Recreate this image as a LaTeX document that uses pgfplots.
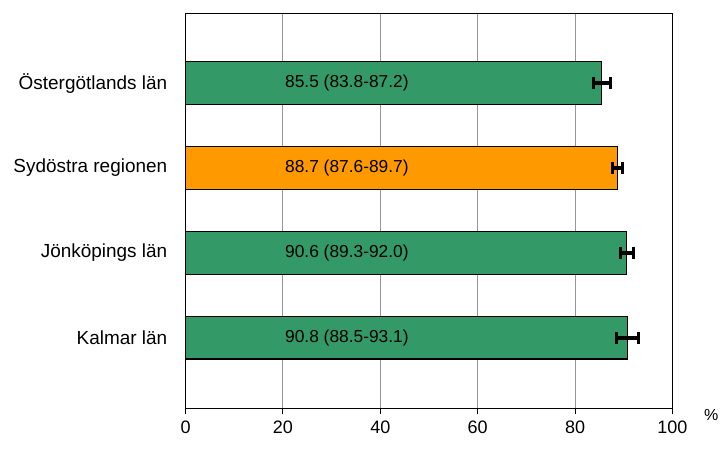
\documentclass[border=0pt]{standalone}
\usepackage{pgfplots}
\pgfplotsset{compat=1.18}
\usepackage{fontspec}
\setmainfont{Liberation Sans}
\definecolor{bargreen}{RGB}{51,153,102}
\definecolor{barorange}{RGB}{255,153,0}
\definecolor{gridgray}{RGB}{150,150,150}
\begin{document}
\begin{tikzpicture}
\begin{axis}[
  name=ax,
  scale only axis,
  width=364.9pt, height=296.1pt,
  xmin=0, xmax=100,
  ymin=-0.835, ymax=3.82,
  xbar, bar width=32pt, bar shift=0pt,
  xtick={0,20,40,60,80,100},
  ytick={0,1,2,3},
  yticklabels={Kalmar län, Jönköpings län, Sydöstra regionen, Östergötlands län},
  y tick style={draw=none},
  x tick style={black, line width=0.8pt},
  tick align=outside,
  major tick length=3.75pt,
  xtick pos=bottom,
  xmajorgrids,
  grid style={gridgray, line width=0.75pt},
  axis line style={black, line width=1pt},
  xticklabel style={font=\fontsize{13.5}{16}\selectfont, yshift=-2pt},
  yticklabel style={font=\fontsize{14.2}{17}\selectfont, xshift=-6.5pt},
  /pgf/number format/assume math mode=true,
  clip=false,
]
\addplot[draw=black, line width=0.9pt, fill=bargreen,
  error bars/.cd, x dir=both, x explicit,
  error bar style={line width=3.2pt, black},
  error mark options={rotate=90, mark size=4.5pt, line width=2.2pt, black}]
  coordinates {
  (90.8,0) -= (2.3,0) += (2.3,0)
  (90.6,1) -= (1.3,0) += (1.4,0)
  (85.5,3) -= (1.7,0) += (1.7,0)
  };
\addplot[draw=black, line width=0.9pt, fill=barorange,
  error bars/.cd, x dir=both, x explicit,
  error bar style={line width=3.2pt, black},
  error mark options={rotate=90, mark size=4.5pt, line width=2.2pt, black}]
  coordinates {
  (88.7,2) -= (1.1,0) += (1.0,0)
  };
\node[anchor=west, font=\fontsize{13}{15}\selectfont, inner sep=0pt] at (axis cs:20.4,3) {85.5 (83.8-87.2)};
\node[anchor=west, font=\fontsize{13}{15}\selectfont, inner sep=0pt] at (axis cs:20.4,2) {88.7 (87.6-89.7)};
\node[anchor=west, font=\fontsize{13}{15}\selectfont, inner sep=0pt] at (axis cs:20.4,1) {90.6 (89.3-92.0)};
\node[anchor=west, font=\fontsize{13}{15}\selectfont, inner sep=0pt] at (axis cs:20.4,0) {90.8 (88.5-93.1)};
\end{axis}
\node[font=\fontsize{12}{14}\selectfont, inner sep=0pt] at ([shift={(29pt,-5pt)}]ax.south east) {\%};
\path[use as bounding box] ([shift={(-139.1pt,-33.5pt)}]ax.south west) rectangle ([shift={(39.4pt,10.1pt)}]ax.north east);
\end{tikzpicture}
\end{document}
